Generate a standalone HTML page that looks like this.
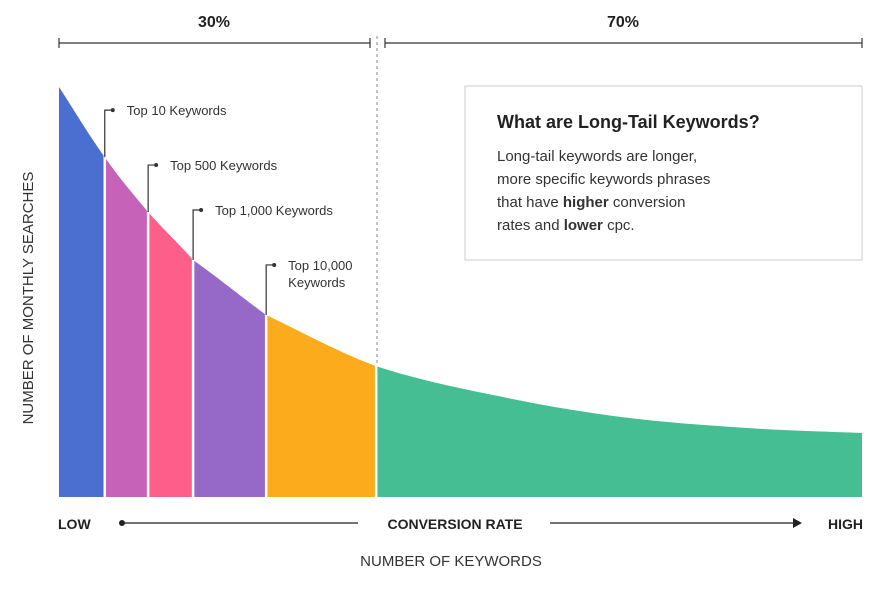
<!DOCTYPE html>
<html><head><meta charset="utf-8"><style>
body{margin:0;background:#fff;width:882px;height:585px;overflow:hidden;font-family:"Liberation Sans",sans-serif}
svg text{font-family:"Liberation Sans",sans-serif}
</style></head><body>
<svg id="c" width="882" height="585">
<g id="marks"></g>
<g stroke="#333" stroke-width="1.2">
<line x1="59" y1="43" x2="370" y2="43"/><line x1="59" y1="38" x2="59" y2="48"/><line x1="370" y1="38" x2="370" y2="48"/>
<line x1="385" y1="43" x2="862" y2="43"/><line x1="385" y1="38" x2="385" y2="48"/><line x1="862" y1="38" x2="862" y2="48"/>
</g>
<text x="214" y="27" text-anchor="middle" font-size="16" font-weight="bold" fill="#222">30%</text>
<text x="623" y="27" text-anchor="middle" font-size="16" font-weight="bold" fill="#222">70%</text>
<line x1="377" y1="36" x2="377" y2="366" stroke="#888" stroke-dasharray="3,3"/>
<g>
<rect x="465" y="86" width="397" height="174" fill="#fff" stroke="#ccc"/>
<text x="497" y="128" font-size="18" font-weight="bold" fill="#222">What are Long-Tail Keywords?</text>
<text font-size="15" fill="#333"><tspan x="497" y="161">Long-tail keywords are longer,</tspan><tspan x="497" y="184">more specific keywords phrases</tspan><tspan x="497" y="207">that have <tspan font-weight="bold">higher</tspan> conversion</tspan><tspan x="497" y="230">rates and <tspan font-weight="bold">lower</tspan> cpc.</tspan></text>
</g>
<text transform="translate(33,298) rotate(-90)" text-anchor="middle" font-size="15" fill="#333">NUMBER OF MONTHLY SEARCHES</text>
<text x="58" y="529" font-size="14" font-weight="bold" fill="#222">LOW</text>
<circle cx="122" cy="523" r="3" fill="#222"/>
<line x1="122" y1="523" x2="358" y2="523" stroke="#222" stroke-width="1.2"/>
<text x="455" y="529" text-anchor="middle" font-size="14" font-weight="bold" fill="#222">CONVERSION RATE</text>
<line x1="550" y1="523" x2="795" y2="523" stroke="#222" stroke-width="1.2"/>
<polygon points="802,523 793,518 793,528" fill="#222"/>
<text x="863" y="529" text-anchor="end" font-size="14" font-weight="bold" fill="#222">HIGH</text>
<text x="451" y="566" text-anchor="middle" font-size="15" fill="#333">NUMBER OF KEYWORDS</text>
</svg>
<script>
const curveX=[0,5.7,11.1,16.7,25.8,39.5,55,70,86,100];
const curveY=[100,82.9,69.5,57.8,44.4,31.9,24.5,19.5,16.8,15.6];
const segStart=[0,5.7,11.1,16.7,25.8,39.5];
const segEnd=[5.7,11.1,16.7,25.8,39.5,100];
const segColors=["#4a6fd0","#c762b9","#fe5f8a","#9669c9","#fcab1d","#44be92"];
const labelText=[["Top 10 Keywords"],["Top 500 Keywords"],["Top 1,000 Keywords"],["Top 10,000","Keywords"]];
const labelAt=[5.7,11.1,16.7,25.8];
const labelRise=[47,47,50,50];
const sx=v=>59+v/100*803, sy=v=>497-v/100*410;
function yAt(x){let i=0;while(i<curveX.length-2&&x>curveX[i+1])i++;
 const p1=curveY[i],p2=curveY[i+1];
 const p0=i>0?curveY[i-1]:2*p1-p2;
 const p3=i+2<curveY.length?curveY[i+2]:2*p2-p1;
 const t=(x-curveX[i])/(curveX[i+1]-curveX[i]);
 return 0.5*((2*p1)+(-p0+p2)*t+(2*p0-5*p1+4*p2-p3)*t*t+(-p0+3*p1-3*p2+p3)*t*t*t);}
const g=document.getElementById('marks'),NS="http://www.w3.org/2000/svg";
segStart.forEach((s,k)=>{const e=segEnd[k];let d=`M${sx(s)},497`;
 for(let j=0;j<=40;j++){const x=s+(e-s)*j/40;d+=` L${sx(x)},${sy(yAt(x))}`;}
 d+=` L${sx(e)},497Z`;const p=document.createElementNS(NS,'path');p.setAttribute('d',d);p.setAttribute('fill',segColors[k]);
 
 
 g.appendChild(p);});
segEnd.slice(0,-1).forEach((e,k)=>{const l=document.createElementNS(NS,'line');
 l.setAttribute('x1',sx(e));l.setAttribute('x2',sx(e));l.setAttribute('y1',sy(yAt(e))-2);l.setAttribute('y2',498);
 l.setAttribute('stroke','#fff');l.setAttribute('stroke-width','2.5');
 
 
 g.appendChild(l);});
labelAt.forEach((a,k)=>{const x=sx(a),y0=sy(yAt(a)),yt=y0-labelRise[k];
 const p=document.createElementNS(NS,'path');p.setAttribute('d',`M${x},${y0} L${x},${yt} L${x+8},${yt}`);
 p.setAttribute('stroke','#333');p.setAttribute('fill','none');p.setAttribute('stroke-width','1.2');
 
 
 g.appendChild(p);
 const c=document.createElementNS(NS,'circle');c.setAttribute('cx',x+8);c.setAttribute('cy',yt);c.setAttribute('r','2');c.setAttribute('fill','#333');
 
 
 g.appendChild(c);
 const t=document.createElementNS(NS,'text');t.setAttribute('font-size','13');t.setAttribute('fill','#333');
 
 
 labelText[k].forEach((s,i)=>{const ts=document.createElementNS(NS,'tspan');ts.setAttribute('x',x+22);ts.setAttribute('y',yt+5+i*17);ts.textContent=s;t.appendChild(ts);});
 g.appendChild(t);});
</script>
</body></html>
